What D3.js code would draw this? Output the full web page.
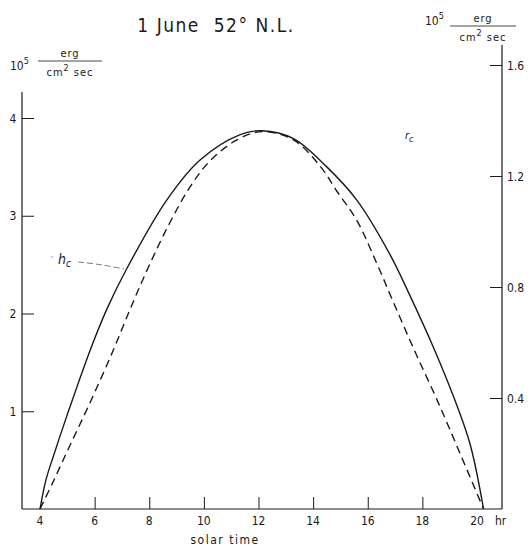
<!DOCTYPE html>
<html><head><meta charset="utf-8">
<script src="https://cdn.jsdelivr.net/npm/d3@7"></script>
<style>body{margin:0;background:#fff}svg{display:block}text{font-family:"DejaVu Sans Condensed","DejaVu Sans",sans-serif;fill:#1a1a1a}</style>
</head><body>
<script>
// Solar time (hr) and h_c (left axis, 10^5 erg / cm^2 sec)
const hcHours  = [4.0, 4.22, 4.49, 4.98, 5.83, 6.44, 7.18, 8.64, 9.86, 11.33, 12.13, 13.28, 14.50, 15.60, 16.82, 17.55, 18.41, 19.14, 19.75, 20.24];
const hcValues = [0, 0.30, 0.54, 0.95, 1.62, 2.04, 2.46, 3.16, 3.57, 3.83, 3.87, 3.79, 3.50, 3.16, 2.60, 2.18, 1.65, 1.15, 0.66, 0];
// r_c (right axis, 10^5 erg / cm^2 sec)
const rcHours  = [4.0, 4.49, 5.10, 5.77, 6.63, 7.30, 7.78, 8.64, 9.49, 10.23, 11.21, 12.13, 13.28, 14.26, 14.87, 15.60, 16.33, 16.94, 17.67, 18.53, 19.38, 20.24];
const rcValues = [0, 0.10, 0.23, 0.37, 0.56, 0.72, 0.83, 1.01, 1.16, 1.255, 1.33, 1.36, 1.33, 1.235, 1.145, 1.04, 0.885, 0.745, 0.58, 0.395, 0.20, 0];
const xTicks = [4, 6, 8, 10, 12, 14, 16, 18, 20];
const leftTicks = [1, 2, 3, 4];
const rightTicks = [0.4, 0.8, 1.2, 1.6];

const W = 530, H = 550;
const svg = d3.select("body").append("svg").attr("width", W).attr("height", H);
const x = d3.scaleLinear().domain([4, 20]).range([40, 477]);
const yL = d3.scaleLinear().domain([0, 4]).range([509, 118]);
const yR = d3.scaleLinear().domain([0, 1.6]).range([509, 65]);
const axisX0 = 22, axisX1 = 502, base = 509;
const ink = "#1a1a1a";

// Axis lines
svg.append("line").attr("x1", axisX0).attr("x2", axisX1).attr("y1", base).attr("y2", base).attr("stroke", ink).attr("stroke-width", 1.2);
svg.append("line").attr("x1", axisX0).attr("x2", axisX0).attr("y1", base).attr("y2", 92).attr("stroke", ink).attr("stroke-width", 1.2);
svg.append("line").attr("x1", axisX1).attr("x2", axisX1).attr("y1", base).attr("y2", 45).attr("stroke", ink).attr("stroke-width", 1.2);

// X axis via d3 axis (ticks pointing up)
const gx = svg.append("g").attr("transform", `translate(0,${base})`)
  .call(d3.axisTop(x).tickValues(xTicks.filter(d => d > 4 && d < 20)).tickSize(12).tickFormat(""));
gx.select(".domain").remove();
gx.selectAll("line").attr("stroke", ink).attr("stroke-width", 1);
svg.selectAll(".xl").data(xTicks).enter().append("text")
  .attr("x", d => x(d)).attr("y", 525).attr("text-anchor", "middle").attr("font-size", 12).text(d => d);
svg.append("text").attr("x", 495).attr("y", 525).attr("font-size", 12).text("hr");
svg.append("text").attr("x", 225).attr("y", 544).attr("text-anchor", "middle").attr("font-size", 12).attr("letter-spacing", 1.5).text("solar time");

// Left axis ticks (pointing right)
const gl = svg.append("g").attr("transform", `translate(${axisX0},0)`)
  .call(d3.axisRight(yL).tickValues(leftTicks).tickSize(12).tickFormat(""));
gl.select(".domain").remove();
gl.selectAll("line").attr("stroke", ink).attr("stroke-width", 1);
svg.selectAll(".yl").data(leftTicks).enter().append("text")
  .attr("x", 13).attr("y", d => yL(d) + 4.5).attr("text-anchor", "middle").attr("font-size", 12).text(d => d);

// Right axis ticks (pointing left)
const gr = svg.append("g").attr("transform", `translate(${axisX1},0)`)
  .call(d3.axisLeft(yR).tickValues(rightTicks).tickSize(12).tickFormat(""));
gr.select(".domain").remove();
gr.selectAll("line").attr("stroke", ink).attr("stroke-width", 1);
svg.selectAll(".yr").data(rightTicks).enter().append("text")
  .attr("x", 507).attr("y", d => yR(d) + 4.5).attr("font-size", 12).text(d => d3.format(".1f")(d));

// Curves
const hc = hcHours.map((h, i) => [h, hcValues[i]]);
const rc = rcHours.map((h, i) => [h, rcValues[i]]);
svg.append("path").datum(hc).attr("fill", "none").attr("stroke", ink).attr("stroke-width", 1.4)
  .attr("d", d3.line().x(d => x(d[0])).y(d => yL(d[1])).curve(d3.curveCatmullRom.alpha(0.5)));
svg.append("path").datum(rc).attr("fill", "none").attr("stroke", ink).attr("stroke-width", 1.4)
  .attr("stroke-dasharray", "8,5")
  .attr("d", d3.line().x(d => x(d[0])).y(d => yR(d[1])).curve(d3.curveCatmullRom.alpha(0.5)));

// Title
svg.append("text").attr("x", 216).attr("y", 32).attr("text-anchor", "middle").attr("font-size", 19)
  .attr("letter-spacing", 1.5).attr("xml:space", "preserve").text("1 June  52\u00B0 N.L.");

// Unit labels
function unit(x10, yb, fx0, fx1, fy) {
  const t = svg.append("text").attr("x", x10).attr("y", yb).attr("font-size", 12);
  t.append("tspan").text("10");
  t.append("tspan").attr("dy", -6).attr("font-size", 9).text("5");
  svg.append("line").attr("x1", fx0).attr("x2", fx1).attr("y1", fy).attr("y2", fy).attr("stroke", ink).attr("stroke-width", 0.8);
  const cx = (fx0 + fx1) / 2;
  svg.append("text").attr("x", cx).attr("y", fy - 4).attr("text-anchor", "middle").attr("font-size", 11).attr("letter-spacing", 1).text("erg");
  const b = svg.append("text").attr("x", cx).attr("y", fy + 15).attr("text-anchor", "middle").attr("font-size", 11).attr("letter-spacing", 1);
  b.append("tspan").text("cm");
  b.append("tspan").attr("dy", -5).attr("font-size", 9).text("2");
  b.append("tspan").attr("dy", 5).text(" sec");
}
unit(10, 70, 38, 102, 61);
unit(425, 25, 450, 516, 26);

// Annotations
const hl = svg.append("text").attr("x", 58).attr("y", 264).attr("font-size", 14).attr("font-style", "italic");
hl.append("tspan").text("h");
hl.append("tspan").attr("dy", 3).attr("font-size", 10).text("c");
svg.append("path").attr("d", "M78,262 Q100,264 124,269").attr("fill", "none").attr("stroke", "#555")
  .attr("stroke-width", 0.8).attr("stroke-dasharray", "6,3");
svg.append("circle").attr("cx", 52).attr("cy", 257).attr("r", 0.7).attr("fill", "#777");
const rl = svg.append("text").attr("x", 405).attr("y", 139).attr("font-size", 11).attr("font-style", "italic").attr("fill", "#444");
rl.append("tspan").text("r");
rl.append("tspan").attr("dy", 3).attr("font-size", 9).text("c");
</script>
</body></html>
